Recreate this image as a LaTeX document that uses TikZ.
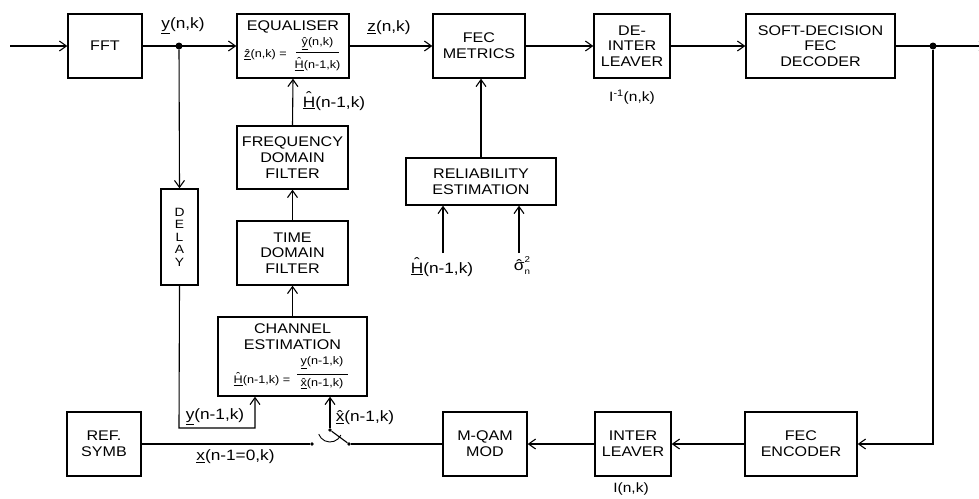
\documentclass[tikz,border=0pt]{standalone}
\usepackage{fontspec}
\setmainfont{Liberation Sans}[FakeStretch=1.15]
\usetikzlibrary{arrows.meta}
\newcommand\hv[2][0pt]{\setbox0\hbox{#2}\rlap{\hbox to\wd0{\hss\raisebox{#1}{ˆ}\hss}}\underline{#2}}
\newcommand\hn[2][0pt]{\setbox0\hbox{#2}\rlap{\hbox to\wd0{\hss\raisebox{#1}{ˆ}\hss}}#2}
\newcommand\boxfont{\fontsize{14}{15.7}\selectfont}
\newcommand\lblfont{\fontsize{15}{16}\selectfont}
\newcommand\smlfont{\fontsize{13.5}{14}\selectfont}
\newcommand\frmfont{\fontsize{11}{12}\selectfont}
\begin{document}
\begin{tikzpicture}[x=1pt,y=-1pt,
  box/.style={draw, line width=1.4pt, inner sep=0pt, align=center, font=\boxfont},
  conn/.style={line width=1.1pt, -{Straight Barb[length=7pt,width=10pt]}},
  wire/.style={line width=1.1pt},
  lbl/.style={inner sep=0pt, font=\lblfont},
  frm/.style={inner sep=0pt, font=\frmfont},
  bigdot/.style={circle, fill, inner sep=0pt, minimum size=7pt},
  smalldot/.style={circle, fill, inner sep=0pt, minimum size=3.6pt}]
\useasboundingbox[fill=white] (0,0) rectangle (979,498);

% top row
\node[box, minimum width=74pt, minimum height=64pt] (FFT) at (105,46) {FFT};
\node[box, minimum width=112pt, minimum height=64pt] (EQ) at (293,46) {};
\node[box, minimum width=92pt, minimum height=64pt] (FECM) at (479,46) {FEC\\METRICS};
\node[box, minimum width=76pt, minimum height=64pt] (DEINT) at (632,46) {DE-\\INTER\\LEAVER};
\node[box, minimum width=149pt, minimum height=64pt] (SOFT) at (820.5,46) {SOFT-DECISION\\FEC\\DECODER};

% middle column
\node[box, minimum width=111pt, minimum height=63pt] (FDF) at (292.5,157.5) {FREQUENCY\\DOMAIN\\FILTER};
\node[box, minimum width=111pt, minimum height=64pt] (TDF) at (292.5,253) {TIME\\DOMAIN\\FILTER};
\node[box, minimum width=149pt, minimum height=79pt] (CHE) at (292.5,356.5) {};
\node[box, minimum width=37pt, minimum height=96pt, font=\fontsize{12}{12.5}\selectfont] (DELAY) at (179.5,237) {D\\E\\L\\A\\Y};
\node[box, minimum width=150pt, minimum height=47pt] (REL) at (481,181.5) {RELIABILITY\\ESTIMATION};

% bottom row
\node[box, minimum width=74pt, minimum height=64pt] (REF) at (104,444) {REF.\\SYMB};
\node[box, minimum width=84pt, minimum height=64pt] (MQAM) at (485,444) {M-QAM\\MOD};
\node[box, minimum width=76pt, minimum height=64pt] (INTL) at (633,444) {INTER\\LEAVER};
\node[box, minimum width=112pt, minimum height=64pt] (FECENC) at (801,444) {FEC\\ENCODER};

% box contents: equaliser
\node[inner sep=0pt, font=\boxfont] (eqtitle) at (293,27) {EQUALISER};
\node[frm] (eqz) at (265.5,55) {\hv{z}(n,k) =};
\node[frm] (eqnum) at (317.5,44) {\hv{y}(n,k)};
\node[frm] (eqden) at (317.5,64) {\hv[0.3em]{H}(n-1,k)};
\draw[line width=0.8pt] (296,52.5) -- (339,52.5);
% box contents: channel estimation
\node[inner sep=0pt, font=\boxfont, align=center] (chetitle) at (292.5,336.5) {CHANNEL\\ESTIMATION};
\node[frm] (chel) at (262,379) {\hv[0.3em]{H}(n-1,k) =};
\node[frm] (chenum) at (322,363) {\underline{y}(n-1,k)};
\node[frm] (cheden) at (322,384) {\hv{x}(n-1,k)};
\draw[line width=0.8pt] (297,374) -- (348,374);

% coordinates
\coordinate (in) at (10,46);
\node[bigdot] (j1) at (179,46) {};
\node[bigdot] (j2) at (933,46) {};
\coordinate (out) at (987,46);
\coordinate (d1) at (179,428);
\coordinate (d2) at (255,428);
\node[smalldot] (c1) at (312,444) {};
\node[smalldot] (c2) at (349,444) {};
\node[smalldot] (pv) at (330,430) {};
\coordinate (h1) at (443,253);
\coordinate (s1) at (519,253);

% connectors
\draw[conn] (in) -- (FFT.west);
\draw[conn] (FFT.east) -- (EQ.west);
\draw[conn] (EQ.east) -- (FECM.west);
\draw[conn] (FECM.east) -- (DEINT.west);
\draw[conn] (DEINT.east) -- (SOFT.west);
\draw[conn] (SOFT.east) -- (out);
\draw[conn] (j1) -- (DELAY.north);
\draw[conn] (DELAY.south) -- (d1) -- (d2) -- (d2 |- CHE.south);
\draw[conn] (j2) |- (FECENC.east);
\draw[conn] (FECENC.west) -- (INTL.east);
\draw[conn] (INTL.west) -- (MQAM.east);
\draw[wire] (MQAM.west) -- (c2);
\draw[wire] (REF.east) -- (c1);
\draw[wire] (pv) -- (c2);
\draw[line width=0.9pt] (pv) ++(25:12) arc[start angle=25, end angle=160, radius=12];
\draw[conn] (pv) -- (pv |- CHE.south);
\draw[conn] (CHE.north) -- (TDF.south);
\draw[conn] (TDF.north) -- (FDF.south);
\draw[conn] (FDF.north) -- (EQ.south);
\draw[conn] (REL.north) -- (REL.north |- FECM.south);
\draw[conn] (h1) -- (h1 |- REL.south);
\draw[conn] (s1) -- (s1 |- REL.south);

% labels
\node[lbl] (ly) at (183,26) {\underline{y}(n,k)};
\node[lbl] (lz) at (389,28) {\underline{z}(n,k)};
\node[lbl] (lh) at (334,101) {\hv[0.3em]{H}(n-1,k)};
\node[inner sep=0pt, font=\smlfont] (lil) at (632,97) {I\textsuperscript{-1}(n,k)};
\node[lbl] (lh2) at (442,267) {\hv[0.3em]{H}(n-1,k)};
\node[lbl] (lsig) at (522,266) {\hn{σ}\rlap{\raisebox{0.5em}{\fontsize{8.5}{9}\selectfont 2}}\raisebox{-0.3em}{\fontsize{8.5}{9}\selectfont n}};
\node[lbl] (lyd) at (215,417) {\underline{y}(n-1,k)};
\node[lbl] (lx0) at (235.5,457) {\underline{x}(n-1=0,k)};
\node[lbl] (lxh) at (365,418) {\hv{x}(n-1,k)};
\node[inner sep=0pt, font=\smlfont] (li) at (631,489) {I(n,k)};
\end{tikzpicture}
\end{document}
